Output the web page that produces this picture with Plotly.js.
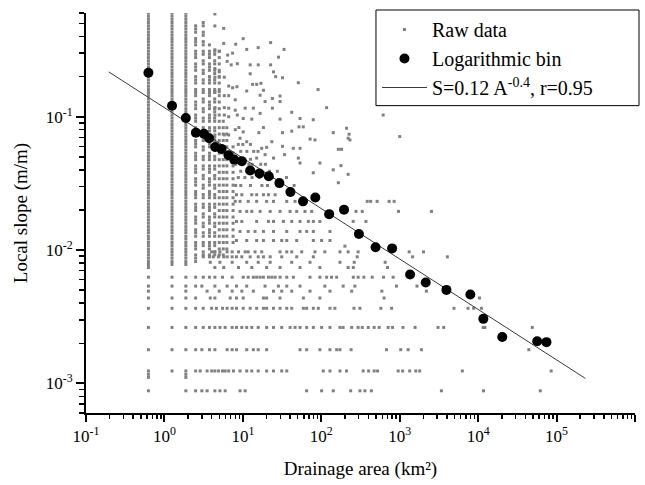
<!DOCTYPE html>
<html>
<head>
<meta charset="utf-8">
<script src="https://cdn.plot.ly/plotly-3.0.1.min.js"></script>
<style>
  html, body { margin: 0; padding: 0; background: #fff; }
  #chart { width: 645px; height: 485px; }
</style>
</head>
<body>
<div id="chart"></div>
<script>
// log-binned means
const binArea = [0.625, 1.25, 1.875, 2.52, 3.19, 3.72, 4.44, 5.35, 6.56, 7.75, 9.7, 12.4, 16.3, 21.4, 29.2, 40.4,
  58.5, 83.9, 126, 195, 302, 492, 800, 1356, 2147, 3940, 7950, 11650, 20300, 56600, 74300];
const binSlope = [0.214, 0.121, 0.098, 0.076, 0.0746, 0.0689, 0.0594, 0.0574, 0.0514, 0.0477, 0.0464, 0.0395,
  0.0375, 0.0358, 0.0318, 0.0273, 0.0232, 0.0248, 0.0186, 0.0201, 0.0132, 0.0105, 0.0103, 0.00656, 0.00571,
  0.00503, 0.00465, 0.00305, 0.00223, 0.00207, 0.00204];

// fitted power law, end points as drawn
const fitArea = [0.195, 233000];
const fitSlope = [0.217, 0.00109];

// raw data: the dense stacks at the smallest areas (one column per cell count)
const stackAreas = [0.625, 1.25, 1.875, 2.5, 3.125, 3.75, 4.375, 5.0, 5.625, 6.25, 7.5];
const stackTop = [0.60, 0.60, 0.60, 0.53, 0.53, 0.35, 0.33, 0.31, 0.10, 0.09, 0.06];
const stackBottom = [0.0074, 0.0078, 0.0078, 0.0082, 0.0092, 0.0092, 0.0092, 0.0092, 0.0092, 0.0097, 0.0108];
// 1 = every level present, k = every k-th level missing
const stackGap = [1, 1, 1, 4, 3, 4, 3, 2, 2, 2, 2];
const stackLevels = [0.600, 0.568, 0.538, 0.509, 0.481, 0.456, 0.431, 0.408, 0.386, 0.366, 0.346, 0.328, 0.310,
  0.294, 0.278, 0.263, 0.249, 0.236, 0.223, 0.211, 0.200, 0.189, 0.179, 0.169, 0.160, 0.152, 0.144, 0.136, 0.129,
  0.122, 0.115, 0.109, 0.103, 0.0977, 0.0925, 0.0875, 0.0828, 0.0784, 0.0742, 0.0702, 0.0664, 0.0629, 0.0595,
  0.0563, 0.0533, 0.0504, 0.0477, 0.0452, 0.0428, 0.0405, 0.0383, 0.0363, 0.0343, 0.0325, 0.0307, 0.0291, 0.0275,
  0.0261, 0.0247, 0.0233, 0.0221, 0.0209, 0.0198, 0.0187, 0.0177, 0.0168, 0.0159, 0.0150, 0.0142, 0.0135, 0.0127,
  0.0121, 0.0114, 0.0108, 0.0102, 0.0097, 0.0092, 0.0087, 0.0082, 0.0078, 0.0074];

// raw data: horizontal slope bands and the areas found on each
const rowSlopes = [0.00088, 0.00111, 0.00117, 0.00124, 0.00179, 0.00263, 0.00366, 0.00437, 0.00492, 0.00537,
  0.00626, 0.0074, 0.0081, 0.0089, 0.0097, 0.0107, 0.0118, 0.0138, 0.0164, 0.0195, 0.0232, 0.026, 0.0305, 0.035,
  0.039, 0.044, 0.048, 0.055, 0.062];
const rowAreas = [
  [0.625, 1.875, 2.5, 3.0, 3.5, 4.4, 5.1, 5.95, 9.2, 10.7, 65, 101, 142, 237, 311, 360, 435, 3400, 11700, 62000],
  [0.625, 1.875],
  [0.625, 1.875],
  [0.625, 1.25, 1.875, 2.5, 2.86, 3.5, 4.0, 4.4, 4.9, 5.5, 5.95, 6.6, 7.6, 9.2, 11.2, 13.0, 15.7, 20.1, 24.6, 31.3,
    36.3, 106, 129, 173, 210, 342, 401, 472, 522, 955, 1090, 1340, 1600, 1800, 6290, 85300],
  [0.625, 1.25, 1.875, 2.5, 3.0, 3.75, 4.4, 6.3, 7.3, 8.3, 11.2, 13.6, 15.7, 20.1, 53.6, 65.1, 96, 129, 157, 173,
    240, 679, 1030, 1280, 1890, 44300],
  [0.625, 1.25, 1.875, 2.5, 3.125, 3.75, 4.4, 5.1, 5.95, 7.3, 8.3, 9.7, 11.2, 13.0, 15.7, 20.1, 24.6, 31.3, 40,
    46.3, 53.6, 65.1, 79.2, 101, 129, 173, 190, 244, 295, 333, 397, 472, 547, 712, 810, 1100, 1570, 3080, 3640,
    11600, 12200, 49000],
  [0.625, 1.25, 1.875, 2.5, 3.125, 4.0, 4.6, 5.5, 6.3, 7.3, 8.3, 10.1, 12.4, 15.0, 18.3, 20.1, 24.6, 29.8, 36.3,
    42.0, 59.1, 65.1, 79.2, 91.6, 129, 149, 261, 311, 575, 788, 4920, 7420, 8770, 11000],
  [0.625, 1.25, 1.875, 2.5, 3.84, 4.4, 6.9, 8.3, 10.1, 18.3, 20.1, 29.8, 59.1, 96, 632, 10400],
  [0.625, 1.875, 3.5, 5.0, 7.3, 9.7, 13.6, 24.6, 31.3, 42.0, 71.8, 129, 244, 592, 2190],
  [0.625, 1.25, 1.875, 2.5, 3.0, 4.4, 6.3, 8.3, 11.2, 19.2, 28.4, 36.3, 53.6, 111, 190, 268, 910, 1660],
  [0.625, 1.25, 1.875, 2.5, 3.125, 3.75, 4.4, 5.5, 7.3, 10.1, 11.7, 13.6, 15.0, 16.6, 18.3, 21.2, 23.4, 25.8, 29.8,
    36.3, 44.1, 71.8, 96, 117, 135, 157, 256, 295, 349, 446, 622, 824],
  [4.4, 5.7, 8.8, 13.0, 20.1, 29.8, 53.6, 96, 220, 256, 699],
  [3.84, 5.1, 7.3, 11.2, 15.7, 22.3, 42.0, 71.8, 173, 263, 652],
  [3.125, 3.75, 4.2, 4.9, 5.7, 6.3, 7.3, 8.3, 9.7, 12.4, 15.7, 18.3, 22.3, 31.3, 48.6, 79.2, 287, 1460, 4050],
  [4.0, 4.4, 5.1, 6.3, 7.3, 8.8, 10.7, 11.7, 14.3, 17.4, 29.8, 36.3, 42.0, 56.3, 83.1, 111, 173, 220, 295, 1320, 2010],
  [200],
  [8.3, 11.2, 15.0, 18.3, 24.6, 31.3, 36.3, 48.6, 79.2, 101, 129],
  [9.2, 11.7, 14.3, 18.3, 24.6, 36.3, 53.6, 65.1, 79.2, 129],
  [8.3, 9.7, 15.0, 21.2, 24.6, 32.9, 42.0, 53.6, 68.4, 79.2, 96, 255, 371],
  [9.2, 11.2, 13.0, 16.6, 22.3, 29.8, 40.0, 48.6, 62.0, 75.4, 277, 333, 966, 2540],
  [8.0, 9.2, 11.7, 15.0, 20.1, 24.6, 36.3, 46.3, 385, 426, 515, 733, 849],
  [8.3, 9.7, 13.0, 15.0, 18.3, 21.2, 25.8],
  [8.1, 9.4, 12.5, 17.5, 20.6, 30, 45],
  [8.75, 10.6, 13.1, 16.2, 23.8, 36],
  [9.4, 11.25, 14.4, 21.9, 27.5],
  [8.1, 10.0, 11.9, 13.1, 16.9, 19.4],
  [8.75, 10.6, 12.5],
  [9.4, 11.25, 13.75, 15.6],
  [8.75, 10.0, 12.5]
];

// raw data: the looser scatter above the bands
const looseArea = [4.4, 4.4, 5.7, 10.1, 5.7, 8.1, 15.7, 22.6, 4.4, 5.0, 6.4, 7.4, 11.2, 33.5, 6.3, 7.1, 8.5, 12.4,
  15.7, 22.6, 28.5, 4.4, 5.0, 12.4, 24.6, 26.2, 4.4, 5.0, 5.8, 32, 51, 6.6, 7.4, 8.4, 13.3, 15.0, 17, 18.3, 16.6,
  91, 4.4, 5.0, 5.8, 6.6, 8.0, 11.2, 23.8, 29.8, 29.8, 19.2, 117, 4.4, 5.8, 6.6, 8.0, 10.7, 13.6, 23.8, 42, 53.6,
  79, 4.4, 5.8, 6.6, 8.5, 10.1, 13, 16.6, 29.8, 8.0, 8.9, 10.1, 16, 18.3, 32, 42, 52, 59, 142, 210, 4.4, 5.8, 6.6,
  9.2, 11.2, 17.4, 20.1, 23.4, 32, 44, 53.6, 72, 83, 165, 181, 220, 19.2, 15, 24.6, 34, 51, 53.6, 79, 96, 142,
  220, 165, 226, 232, 178, 1000, 615];
const looseSlope = [0.59, 0.48, 0.46, 0.385, 0.355, 0.35, 0.33, 0.36, 0.318, 0.31, 0.29, 0.30, 0.32, 0.32, 0.26,
  0.245, 0.25, 0.245, 0.245, 0.245, 0.28, 0.23, 0.217, 0.21, 0.217, 0.20, 0.198, 0.198, 0.198, 0.196, 0.18, 0.17,
  0.165, 0.168, 0.175, 0.175, 0.178, 0.158, 0.145, 0.16, 0.154, 0.154, 0.144, 0.144, 0.134, 0.156, 0.137, 0.143,
  0.130, 0.13, 0.117, 0.117, 0.117, 0.116, 0.112, 0.116, 0.116, 0.116, 0.108, 0.097, 0.095, 0.103, 0.103, 0.100,
  0.103, 0.097, 0.096, 0.106, 0.096, 0.08, 0.083, 0.077, 0.076, 0.083, 0.076, 0.078, 0.084, 0.084, 0.076, 0.082,
  0.073, 0.073, 0.073, 0.069, 0.065, 0.058, 0.059, 0.065, 0.060, 0.058, 0.058, 0.068, 0.067, 0.057, 0.057, 0.069,
  0.052, 0.049, 0.049, 0.052, 0.049, 0.045, 0.038, 0.045, 0.040, 0.037, 0.032, 0.074, 0.067, 0.043, 0.071, 0.103];

const xTickVals = [0.1, 1, 10, 100, 1000, 10000, 100000, 1000000];
const xTickText = ['10<sup>-1</sup>', '10<sup>0</sup>', '10<sup>1</sup>', '10<sup>2</sup>', '10<sup>3</sup>',
  '10<sup>4</sup>', '10<sup>5</sup>', '10<sup>6</sup>'];
const yTickVals = [0.001, 0.01, 0.1];
const yTickText = ['10<sup>-3</sup>', '10<sup>-2</sup>', '10<sup>-1</sup>'];

// collect raw points
const rawX = [];
const rawY = [];
stackAreas.forEach(function (a, c) {
  const k = stackGap[c];
  stackLevels.forEach(function (s, i) {
    const missing = k > 1 && i % k === k - 1;
    if (s <= stackTop[c] && s >= stackBottom[c] && !missing) {
      rawX.push(a);
      rawY.push(s);
    }
  });
});
rowSlopes.forEach(function (s, r) {
  rowAreas[r].forEach(function (a) {
    rawX.push(a);
    rawY.push(s);
  });
});
looseArea.forEach(function (a, i) {
  rawX.push(a);
  rawY.push(looseSlope[i]);
});

// minor ticks 2..9 in every decade
function minorTicks(fromExp, toExp) {
  const out = [];
  for (let e = fromExp; e < toExp; e++) {
    for (let m = 2; m <= 9; m++) out.push(m * Math.pow(10, e));
  }
  return out;
}

const serif = 'Liberation Serif, Times New Roman, serif';

const traces = [
  {
    x: rawX, y: rawY,
    type: 'scatter', mode: 'markers',
    name: 'Raw data',
    legendrank: 1,
    marker: { symbol: 'square', size: 3, color: '#808080', line: { width: 0 } },
    hoverinfo: 'skip'
  },
  {
    x: fitArea, y: fitSlope,
    type: 'scatter', mode: 'lines',
    name: 'S=0.12 A<sup>-0.4</sup>, r=0.95',
    legendrank: 3,
    line: { color: '#3a3a3a', width: 1 }
  },
  {
    x: binArea, y: binSlope,
    type: 'scatter', mode: 'markers',
    name: 'Logarithmic bin',
    legendrank: 2,
    marker: { symbol: 'circle', size: 10, color: '#000' }
  }
];

const axisCommon = {
  type: 'log',
  showline: true, linecolor: '#000', linewidth: 2,
  ticks: 'outside', tickwidth: 2, tickcolor: '#000',
  showgrid: false, zeroline: false,
  tickfont: { family: serif, size: 17, color: '#000' }
};

const layout = {
  width: 645, height: 485,
  margin: { l: 86, r: 10, t: 11, b: 72 },
  paper_bgcolor: '#fff', plot_bgcolor: '#fff',
  showlegend: true,
  legend: {
    x: 0.53, y: 1.0075, xanchor: 'left', yanchor: 'top',
    bgcolor: 'rgba(0,0,0,0)', borderwidth: 0,
    itemwidth: 45,
    font: { family: serif, size: 20, color: '#000' }
  },
  xaxis: Object.assign({}, axisCommon, {
    range: [-1, 6],
    ticklen: 7,
    tickmode: 'array', tickvals: xTickVals, ticktext: xTickText,
    minor: { tickmode: 'array', tickvals: minorTicks(-1, 6), ticks: 'outside', ticklen: 4, tickwidth: 1.5, tickcolor: '#000', showgrid: false },
    title: { text: 'Drainage area (km²)', font: { family: serif, size: 19, color: '#000' }, standoff: 16 }
  }),
  yaxis: Object.assign({}, axisCommon, {
    range: [Math.log10(0.0006), Math.log10(0.6)],
    ticklen: 8,
    tickmode: 'array', tickvals: yTickVals, ticktext: yTickText,
    minor: { tickmode: 'array', tickvals: minorTicks(-4, 0), ticks: 'outside', ticklen: 5, tickwidth: 1.5, tickcolor: '#000', showgrid: false },
    title: { text: 'Local slope (m/m)', font: { family: serif, size: 19, color: '#000' }, standoff: 13 }
  }),
  shapes: [
    // legend frame
    { type: 'rect', xref: 'paper', yref: 'paper', x0: 0.5282, x1: 1.0073, y0: 0.7684, y1: 1.0075,
      line: { color: '#000', width: 1 }, fillcolor: 'rgba(0,0,0,0)' }
  ]
};

Plotly.newPlot('chart', traces, layout, { displayModeBar: false, staticPlot: true });
</script>
</body>
</html>
